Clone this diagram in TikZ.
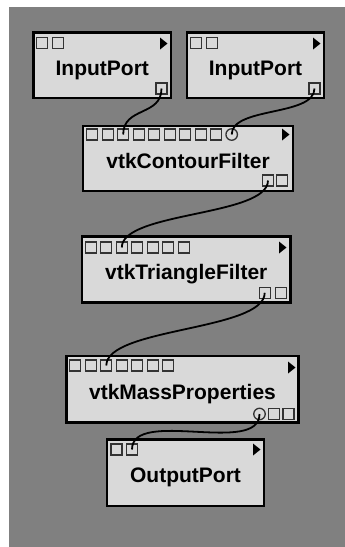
\documentclass[tikz,border=0pt]{standalone}
\usepackage{fontspec}
\setmainfont{Liberation Sans}
\definecolor{bggray}{HTML}{808080}
\definecolor{boxfill}{HTML}{D9D9D9}
\definecolor{portline}{HTML}{333333}
\tikzset{
  modbox/.style={draw=black, line width=2.2pt, fill=boxfill, rectangle, inner sep=0pt},
  lbl/.style={anchor=base, inner sep=0pt, font=\fontsize{21}{24}\selectfont\bfseries},
  port/.style={draw=portline, line width=1.3pt, fill=boxfill, rectangle, minimum size=11pt, inner sep=0pt},
  cport/.style={draw=portline, line width=1.3pt, fill=boxfill, circle, minimum size=11.5pt, inner sep=0pt},
  wire/.style={draw=black, line width=1.8pt},
  playtri/.style={fill=black}
}
\begin{document}
\begin{tikzpicture}[x=1pt,y=-1pt]
\useasboundingbox (0,0) rectangle (345,547);
\fill[white] (0,0) rectangle (345,547);
\fill[bggray] (9,7) rectangle (345,547);

% boxes
\node[modbox, minimum width=137.5pt, minimum height=65.5pt] (b1) at (102.25,65.25) {};
\node[modbox, minimum width=137pt, minimum height=65.5pt] (b2) at (255.5,65.25) {};
\node[modbox, minimum width=210pt, minimum height=65pt] (b3) at (188,158.5) {};
\node[modbox, minimum width=208.5pt, minimum height=66pt] (b4) at (186.25,269.5) {};
\node[modbox, minimum width=232pt, minimum height=66.5pt] (b5) at (182.5,389.25) {};
\node[modbox, minimum width=157pt, minimum height=66.5pt] (b6) at (185.5,472.75) {};

% labels
\node[lbl] (t1) at (102.25,75.25) {InputPort};
\node[lbl] (t2) at (255.5,75.25) {InputPort};
\node[lbl] (t3) at (188,168.5) {vtkContourFilter};
\node[lbl] (t4) at (186.25,279.5) {vtkTriangleFilter};
\node[lbl] (t5) at (182.5,399.25) {vtkMassProperties};
\node[lbl] (t6) at (185.5,482.75) {OutputPort};

% play triangles
\fill[playtri] (160,37.5) -- (167.5,43.5) -- (160,49.5) -- cycle;
\fill[playtri] (313,37.5) -- (320.5,43.5) -- (313,49.5) -- cycle;
\fill[playtri] (282,128.5) -- (289.5,134.5) -- (282,140.5) -- cycle;
\fill[playtri] (279,241.5) -- (286.5,247.5) -- (279,253.5) -- cycle;
\fill[playtri] (288,361.5) -- (295.5,367.5) -- (288,373.5) -- cycle;
\fill[playtri] (253,443.5) -- (260.5,449.5) -- (253,455.5) -- cycle;

% ports: InputPort 1
\node[port] (b1i1) at (42,43) {};
\node[port] (b1i2) at (58,43) {};
\node[port] (b1o) at (161.5,88.5) {};
% InputPort 2
\node[port] (b2i1) at (196,43) {};
\node[port] (b2i2) at (212,43) {};
\node[port] (b2o) at (314.5,88.5) {};
% vtkContourFilter
\foreach \i in {0,...,8} {
  \node[port] (b3i\i) at ({92.2+15.5*\i},134.5) {};
}
\node[cport] (b3c) at (231.7,134.5) {};
\node[port] (b3o1) at (268,180.5) {};
\node[port] (b3o2) at (282,180.5) {};
% vtkTriangleFilter
\foreach \i in {0,...,6} {
  \node[port] (b4i\i) at ({90.8+15.5*\i},247.5) {};
}
\node[port] (b4o1) at (264.7,292.8) {};
\node[port] (b4o2) at (280.8,292.8) {};
% vtkMassProperties
\foreach \i in {0,...,6} {
  \node[port] (b5i\i) at ({75.3+15.5*\i},365.5) {};
}
\node[cport] (b5c) at (259.5,414) {};
\node[port] (b5o1) at (274,414) {};
\node[port] (b5o2) at (288.5,414) {};
% OutputPort
\node[port] (b6i1) at (116.5,449.5) {};
\node[port] (b6i2) at (132,449.5) {};

% wires
\draw[wire] (b1o.center) .. controls +(0,28) and +(0,-28) .. (b3i2.center);
\draw[wire] (b2o.center) .. controls +(0,28) and +(0,-28) .. (b3c.center);
\draw[wire] (b3o1.center) .. controls +(0,36) and +(0,-36) .. (b4i2.center);
\draw[wire] (b4o1.center) .. controls +(0,38) and +(0,-38) .. (b5i2.center);
\draw[wire] (b5c.center) .. controls +(0,42) and +(0,-42) .. (b6i2.center);
\end{tikzpicture}
\end{document}
